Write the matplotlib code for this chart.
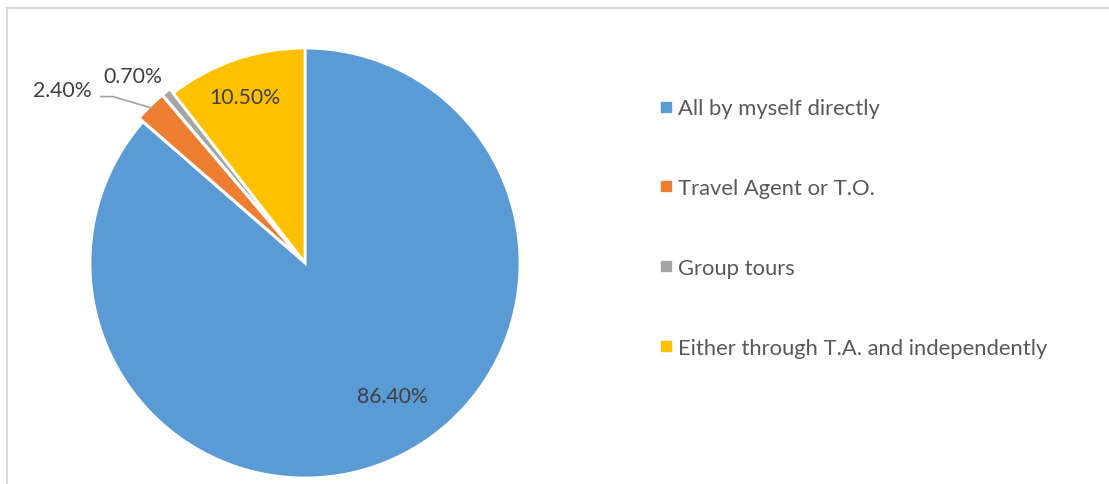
import matplotlib.pyplot as plt
from matplotlib.lines import Line2D

# Dades
categories = ['All by myself directly', 'Travel Agent or T.O.', 'Group tours',
              'Either through T.A. and independently']
valors = [86.4, 2.4, 0.7, 10.5]
etiquetes = ['86.40%', '2.40%', '0.70%', '10.50%']
colors = ['#5B9BD5', '#ED7D31', '#A5A5A5', '#FFC000']

plt.rcParams['font.family'] = ['Lato', 'DejaVu Sans']

fig = plt.figure(figsize=(11.09, 4.85), dpi=100)

# Marc del gràfic (només vora superior i esquerra visibles)
fig.add_artist(Line2D([7 / 1109, 7 / 1109], [0, 1 - 9 / 485], color='#D9D9D9', lw=1.5))
fig.add_artist(Line2D([7 / 1109, 1], [1 - 9 / 485, 1 - 9 / 485], color='#D9D9D9', lw=1.5))

# Eix del pastís: centre (305, 264) px, radi 215 px
W, H = 1109, 485
cx, cy, r = 305, 264, 215
ax = fig.add_axes([(cx - r) / W, (H - cy - r) / H, 2 * r / W, 2 * r / H])

wedges, _ = ax.pie(valors, colors=colors, startangle=90, counterclock=False,
                   explode=[0, 0.025, 0.025, 0],
                   wedgeprops=dict(edgecolor='white', linewidth=2))
for w in wedges:
    w.set_clip_on(False)
ax.set_xlim(-1, 1)
ax.set_ylim(-1, 1)
ax.set_aspect('equal')
ax.axis('off')

# Etiquetes de dades
pos = [(0.409, -0.619), (-1.130, 0.805), (-0.800, 0.870), (-0.279, 0.772)]
for (x, y), t in zip(pos, etiquetes):
    ax.text(x, y, t, ha='center', va='center', fontsize=15.3, color='#404040')

# Línia guia per 2.40%
ax.plot([-0.950, -0.893, -0.713], [0.774, 0.774, 0.721], color='#A5A5A5', lw=1.2,
        clip_on=False)

# Llegenda
handles = [Line2D([], [], marker='s', ls='', markersize=7, color=c) for c in colors]
leg = fig.legend(handles, categories, loc='center left',
                 bbox_to_anchor=(640 / W, 1 - 229 / H), frameon=False,
                 fontsize=15.8, labelspacing=2.72, handlelength=0.6,
                 handletextpad=0.22, labelcolor='#595959')

fig.savefig('out.png', dpi=100)
